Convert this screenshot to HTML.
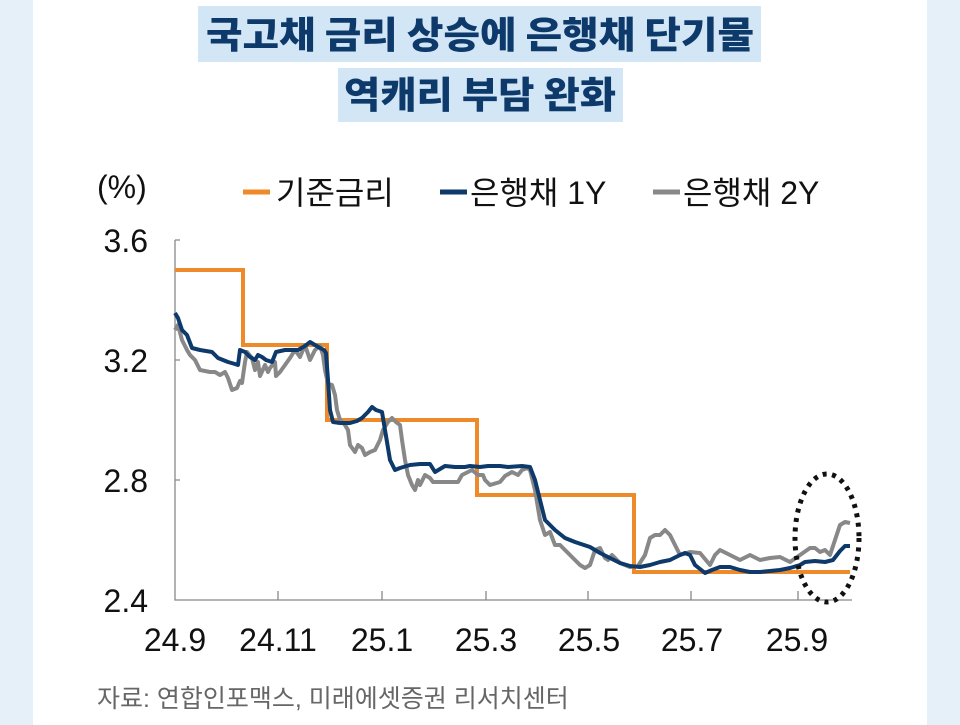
<!DOCTYPE html>
<html><head><meta charset="utf-8"><style>
body{margin:0;width:960px;height:725px;overflow:hidden;background:#fff;font-family:"Liberation Sans","Noto Sans CJK KR",sans-serif;}
</style></head><body>
<svg width="960" height="725" xmlns="http://www.w3.org/2000/svg" style="position:absolute;left:0;top:0">
<rect x="0" y="0" width="33" height="725" fill="#e6f0f8"/>
<rect x="927" y="0" width="33" height="725" fill="#e6f0f8"/>
<rect x="198" y="6" width="563" height="56" fill="#d2e6f5"/>
<rect x="338" y="68" width="285" height="54" fill="#d2e6f5"/>
<g font-family="Noto Sans CJK KR, sans-serif" font-weight="900" font-size="37" fill="#0d3a6b" text-anchor="middle">
<text x="480" y="48" textLength="548" lengthAdjust="spacingAndGlyphs">국고채 금리 상승에 은행채 단기물</text>
<text x="480" y="108" textLength="272" lengthAdjust="spacingAndGlyphs">역캐리 부담 완화</text>
</g>
<g font-family="Liberation Sans, Noto Sans CJK KR, sans-serif" font-size="32" fill="#111">
<text x="97" y="198">(%)</text>
<text x="148" y="252" text-anchor="end">3.6</text>
<text x="148" y="372" text-anchor="end">3.2</text>
<text x="148" y="492" text-anchor="end">2.8</text>
<text x="148" y="612" text-anchor="end">2.4</text>
<g text-anchor="middle">
<text x="175" y="651">24.9</text><text x="278" y="651">24.11</text><text x="382" y="651">25.1</text>
<text x="486" y="651">25.3</text><text x="589" y="651">25.5</text><text x="692" y="651">25.7</text><text x="797" y="651">25.9</text>
</g>
<text x="276" y="204">기준금리</text>
<text x="470" y="204">은행채 1Y</text>
<text x="683" y="204">은행채 2Y</text>
</g>
<line x1="243" y1="192" x2="270" y2="192" stroke="#ee8a2a" stroke-width="5"/>
<line x1="440" y1="192" x2="467" y2="192" stroke="#0d3a6b" stroke-width="5"/>
<line x1="653" y1="192" x2="680" y2="192" stroke="#888" stroke-width="5"/>
<text x="97" y="707" font-family="Liberation Sans, Noto Sans CJK KR, sans-serif" font-size="25" fill="#666">자료: 연합인포맥스, 미래에셋증권 리서치센터</text>
<g stroke="#888" stroke-width="1.3" fill="none">
<path d="M175 240V600H852"/>
<path d="M175 240h5M175 360h5M175 480h5"/>
<path d="M278 600v-9M382 600v-9M486 600v-9M588 600v-9M691 600v-9M798 600v-9"/>
</g>
<path d="M175 270H243V345H327V420H477V495H634V572H850" fill="none" stroke="#ee8a2a" stroke-width="4"/>
<polyline fill="none" stroke="#888" stroke-width="4" stroke-linejoin="round" points="175,330 178,325 182,340 187,350 190,355 195,360 200,370 210,372 215,372 220,375 225,372 228,378 232,390 237,388 240,381 242,383 245,362 247,352 252,358 255,370 258,362 260,376 265,365 268,372 270,368 275,362 276,376 280,372 285,365 290,358 295,350 300,357 305,345 310,360 315,350 320,346 323,355 325,370 328,384 332,385 335,395 337,410 340,420 345,425 348,430 350,445 355,452 358,445 362,448 365,455 370,452 375,450 380,440 383,430 388,422 392,418 396,422 400,425 402,440 405,460 408,475 412,485 415,490 418,480 420,485 425,475 430,478 433,482 440,482 450,482 458,482 462,475 468,472 472,470 478,475 483,475 485,480 490,485 500,482 505,476 512,472 518,475 522,470 527,468 530,470 535,490 540,520 545,535 550,532 555,545 560,545 565,550 570,555 575,560 580,565 585,568 590,565 595,550 600,548 605,558 608,560 612,555 620,563 630,567 638,566 645,555 650,538 655,535 660,535 665,530 670,535 675,545 680,555 690,552 700,553 710,565 715,555 720,550 730,555 740,560 750,555 760,560 770,558 780,557 790,562 800,555 810,548 815,548 820,552 825,550 830,555 835,540 840,525 845,522 850,523"/>
<polyline fill="none" stroke="#0d3a6b" stroke-width="4" stroke-linejoin="round" points="175,313 178,318 182,330 187,335 192,348 200,350 212,352 218,358 228,362 235,364 238,365 240,350 245,352 250,357 255,360 258,355 262,357 266,360 272,362 276,352 285,350 290,350 298,350 305,346 310,342 315,345 320,348 324,350 326,353 328,380 330,410 333,422 340,423 350,423 357,421 362,418 368,412 372,407 376,410 382,412 385,430 390,460 395,470 400,468 410,465 420,464 430,464 435,472 440,469 445,466 455,467 465,467 470,466 480,467 488,466 500,466 508,467 522,466 530,467 535,480 538,492 545,520 555,530 565,538 575,542 590,547 600,553 610,558 620,563 630,566 640,567 650,565 660,562 670,560 680,555 685,553 690,555 695,565 705,573 712,570 720,567 730,567 740,570 750,572 760,572 770,571 780,570 790,568 800,565 805,562 815,561 825,562 833,560 840,551 845,546 850,546"/>
<ellipse cx="827" cy="538" rx="32" ry="64" fill="none" stroke="#111" stroke-width="5" stroke-dasharray="4 5.5"/>
</svg>
</body></html>
